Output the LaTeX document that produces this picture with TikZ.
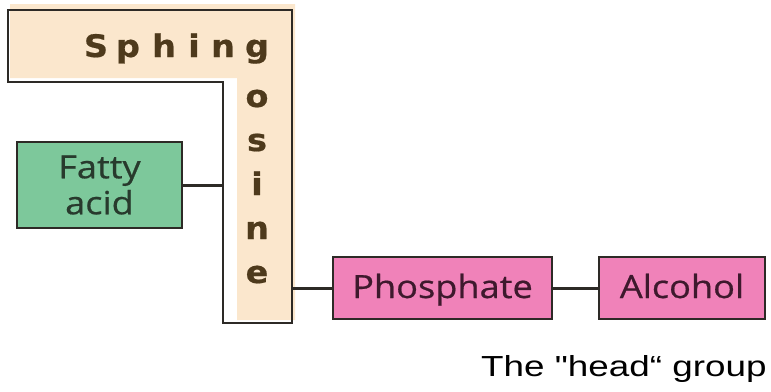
\documentclass[tikz,border=0pt]{standalone}
\usepackage{fontspec}
\usepackage{tikz}
\usetikzlibrary{positioning}
\definecolor{sphbeige}{RGB}{251, 231, 205}
\definecolor{sphbrown}{RGB}{78, 58, 28}
\definecolor{lineblack}{RGB}{45, 42, 38}
\definecolor{fattygreen}{RGB}{125, 200, 155}
\definecolor{fattytext}{RGB}{40, 58, 45}
\definecolor{headpink}{RGB}{240, 130, 185}
\definecolor{headtext}{RGB}{62, 25, 45}
\newfontfamily\letterfont[FakeStretch=1.08, FakeBold=0.6]{DejaVu Sans}
\newfontfamily\boxfont[FakeStretch=1.13, FakeBold=0.6]{Open Sans}
\newfontfamily\capfont[FakeStretch=1.27]{Liberation Sans}
\tikzset{
  sphletter/.style={font=\letterfont\bfseries\fontsize{31}{36}\selectfont, text=sphbrown, inner sep=0pt, anchor=base},
  partbox/.style={draw=lineblack, line width=2pt, inner sep=0pt, align=center, font=\boxfont\fontsize{32}{36}\selectfont},
  fattybox/.style={partbox, fill=fattygreen, text=fattytext},
  headbox/.style={partbox, fill=headpink, text=headtext, minimum height=62pt, text height=25pt, text depth=5pt},
  link/.style={draw=lineblack, line width=3pt}
}

\begin{document}
\begin{tikzpicture}[x=1pt, y=-1pt]
  \useasboundingbox (0,0) rectangle (771,391);

  % Sphingosine backbone
  \fill[sphbeige] (10,4) -- (295,4) -- (295,320) -- (237,320) -- (237,78) -- (10,78) -- cycle;
  \draw[lineblack, line width=2pt] (8,10) -- (292,10) -- (292,323) -- (223,323) -- (223,82) -- (8,82) -- cycle;
  \coordinate (sphin) at (223,185);
  \coordinate (sphout) at (292,288);

  \foreach \ch/\xx [count=\k] in {S/96, p/128, h/164, i/194, n/223, g/257}
    \node[sphletter] (top\k) at (\xx, 57) {\ch};
  \foreach \ch/\yy [count=\k] in {o/107, s/151, i/195, n/239, e/283}
    \node[sphletter] (down\k) at (257, \yy) {\ch};

  % Parts
  \node[fattybox, minimum width=165pt, minimum height=86pt] (fatty) at (99.5,185) {Fatty\\acid};
  \node[headbox, minimum width=219pt] (phos) at (442.5,288) {Phosphate};
  \node[headbox, minimum width=166pt] (alc) at (682,288) {Alcohol};

  \draw[link] (fatty.east) -- (fatty.east -| sphin);
  \draw[link] (sphout) -- (phos.west);
  \draw[link] (phos.east) -- (alc.west);

  \node[font=\capfont\fontsize{29}{34}\selectfont, inner sep=0pt, anchor=base west] (headcap) at (481,376) {The "head“ group};
\end{tikzpicture}
\end{document}
